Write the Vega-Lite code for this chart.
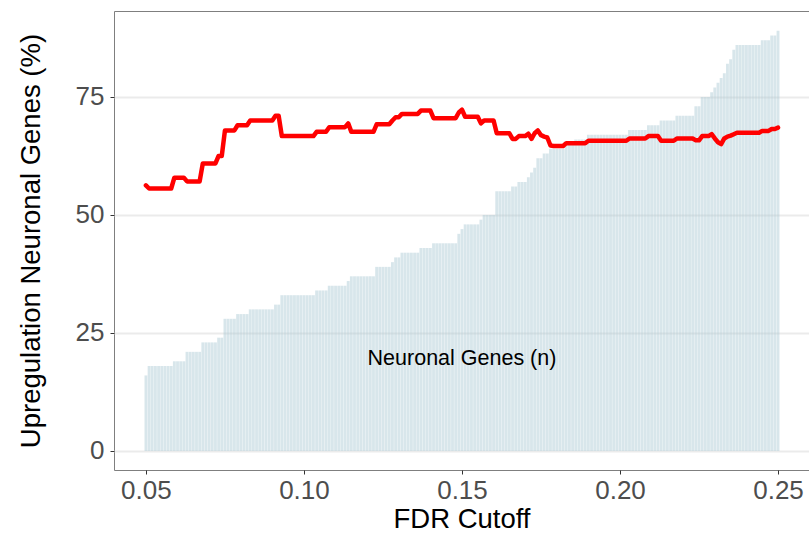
{
  "$schema": "https://vega.github.io/schema/vega-lite/v6.json",
  "autosize": {"type": "none"},
  "width": 695,
  "height": 459,
  "padding": {"left": 114, "top": 11, "right": 0, "bottom": 66},
  "background": "white",
  "config": {
    "font": "Liberation Sans",
    "view": {"stroke": "#7f7f7f", "strokeWidth": 1},
    "axis": {
      "labelFont": "Liberation Sans",
      "titleFont": "Liberation Sans",
      "labelFontSize": 26,
      "labelColor": "#4d4d4d",
      "titleFontSize": 27.5,
      "titleColor": "#000000",
      "titleFontWeight": "normal",
      "domain": false,
      "tickColor": "#333333",
      "tickSize": 4,
      "labelPadding": 3
    }
  },
  "datasets": {
    "cutoffs": [
      {"fdr": 0.050, "n": 16, "pct": 56.25},
      {"fdr": 0.051, "n": 18, "pct": 55.6},
      {"fdr": 0.052, "n": 18, "pct": 55.6},
      {"fdr": 0.053, "n": 18, "pct": 55.6},
      {"fdr": 0.054, "n": 18, "pct": 55.6},
      {"fdr": 0.055, "n": 18, "pct": 55.6},
      {"fdr": 0.056, "n": 18, "pct": 55.6},
      {"fdr": 0.057, "n": 18, "pct": 55.6},
      {"fdr": 0.058, "n": 18, "pct": 55.6},
      {"fdr": 0.059, "n": 19, "pct": 57.9},
      {"fdr": 0.060, "n": 19, "pct": 57.9},
      {"fdr": 0.061, "n": 19, "pct": 57.9},
      {"fdr": 0.062, "n": 19, "pct": 57.9},
      {"fdr": 0.063, "n": 21, "pct": 57.1},
      {"fdr": 0.064, "n": 21, "pct": 57.1},
      {"fdr": 0.065, "n": 21, "pct": 57.1},
      {"fdr": 0.066, "n": 21, "pct": 57.1},
      {"fdr": 0.067, "n": 21, "pct": 57.1},
      {"fdr": 0.068, "n": 23, "pct": 60.9},
      {"fdr": 0.069, "n": 23, "pct": 60.9},
      {"fdr": 0.070, "n": 23, "pct": 60.9},
      {"fdr": 0.071, "n": 23, "pct": 60.9},
      {"fdr": 0.072, "n": 23, "pct": 60.9},
      {"fdr": 0.073, "n": 24, "pct": 62.5},
      {"fdr": 0.074, "n": 24, "pct": 62.5},
      {"fdr": 0.075, "n": 28, "pct": 67.9},
      {"fdr": 0.076, "n": 28, "pct": 67.9},
      {"fdr": 0.077, "n": 28, "pct": 67.9},
      {"fdr": 0.078, "n": 28, "pct": 67.9},
      {"fdr": 0.079, "n": 29, "pct": 69.0},
      {"fdr": 0.080, "n": 29, "pct": 69.0},
      {"fdr": 0.081, "n": 29, "pct": 69.0},
      {"fdr": 0.082, "n": 29, "pct": 69.0},
      {"fdr": 0.083, "n": 30, "pct": 70.0},
      {"fdr": 0.084, "n": 30, "pct": 70.0},
      {"fdr": 0.085, "n": 30, "pct": 70.0},
      {"fdr": 0.086, "n": 30, "pct": 70.0},
      {"fdr": 0.087, "n": 30, "pct": 70.0},
      {"fdr": 0.088, "n": 30, "pct": 70.0},
      {"fdr": 0.089, "n": 30, "pct": 70.0},
      {"fdr": 0.090, "n": 30, "pct": 70.0},
      {"fdr": 0.091, "n": 31, "pct": 71.0},
      {"fdr": 0.092, "n": 31, "pct": 71.0},
      {"fdr": 0.093, "n": 33, "pct": 66.7},
      {"fdr": 0.094, "n": 33, "pct": 66.7},
      {"fdr": 0.095, "n": 33, "pct": 66.7},
      {"fdr": 0.096, "n": 33, "pct": 66.7},
      {"fdr": 0.097, "n": 33, "pct": 66.7},
      {"fdr": 0.098, "n": 33, "pct": 66.7},
      {"fdr": 0.099, "n": 33, "pct": 66.7},
      {"fdr": 0.100, "n": 33, "pct": 66.7},
      {"fdr": 0.101, "n": 33, "pct": 66.7},
      {"fdr": 0.102, "n": 33, "pct": 66.7},
      {"fdr": 0.103, "n": 33, "pct": 66.7},
      {"fdr": 0.104, "n": 34, "pct": 67.6},
      {"fdr": 0.105, "n": 34, "pct": 67.6},
      {"fdr": 0.106, "n": 34, "pct": 67.6},
      {"fdr": 0.107, "n": 34, "pct": 67.6},
      {"fdr": 0.108, "n": 35, "pct": 68.6},
      {"fdr": 0.109, "n": 35, "pct": 68.6},
      {"fdr": 0.110, "n": 35, "pct": 68.6},
      {"fdr": 0.111, "n": 35, "pct": 68.6},
      {"fdr": 0.112, "n": 35, "pct": 68.6},
      {"fdr": 0.113, "n": 35, "pct": 68.6},
      {"fdr": 0.114, "n": 36, "pct": 69.4},
      {"fdr": 0.115, "n": 37, "pct": 67.6},
      {"fdr": 0.116, "n": 37, "pct": 67.6},
      {"fdr": 0.117, "n": 37, "pct": 67.6},
      {"fdr": 0.118, "n": 37, "pct": 67.6},
      {"fdr": 0.119, "n": 37, "pct": 67.6},
      {"fdr": 0.120, "n": 37, "pct": 67.6},
      {"fdr": 0.121, "n": 37, "pct": 67.6},
      {"fdr": 0.122, "n": 37, "pct": 67.6},
      {"fdr": 0.123, "n": 39, "pct": 69.2},
      {"fdr": 0.124, "n": 39, "pct": 69.2},
      {"fdr": 0.125, "n": 39, "pct": 69.2},
      {"fdr": 0.126, "n": 39, "pct": 69.2},
      {"fdr": 0.127, "n": 39, "pct": 69.2},
      {"fdr": 0.128, "n": 40, "pct": 70.0},
      {"fdr": 0.129, "n": 41, "pct": 70.7},
      {"fdr": 0.130, "n": 41, "pct": 70.7},
      {"fdr": 0.131, "n": 42, "pct": 71.4},
      {"fdr": 0.132, "n": 42, "pct": 71.4},
      {"fdr": 0.133, "n": 42, "pct": 71.4},
      {"fdr": 0.134, "n": 42, "pct": 71.4},
      {"fdr": 0.135, "n": 42, "pct": 71.4},
      {"fdr": 0.136, "n": 42, "pct": 71.4},
      {"fdr": 0.137, "n": 43, "pct": 72.1},
      {"fdr": 0.138, "n": 43, "pct": 72.1},
      {"fdr": 0.139, "n": 43, "pct": 72.1},
      {"fdr": 0.140, "n": 43, "pct": 72.1},
      {"fdr": 0.141, "n": 44, "pct": 70.5},
      {"fdr": 0.142, "n": 44, "pct": 70.5},
      {"fdr": 0.143, "n": 44, "pct": 70.5},
      {"fdr": 0.144, "n": 44, "pct": 70.5},
      {"fdr": 0.145, "n": 44, "pct": 70.5},
      {"fdr": 0.146, "n": 44, "pct": 70.5},
      {"fdr": 0.147, "n": 44, "pct": 70.5},
      {"fdr": 0.148, "n": 44, "pct": 70.5},
      {"fdr": 0.149, "n": 46, "pct": 71.7},
      {"fdr": 0.150, "n": 47, "pct": 72.3},
      {"fdr": 0.151, "n": 48, "pct": 70.8},
      {"fdr": 0.152, "n": 48, "pct": 70.8},
      {"fdr": 0.153, "n": 48, "pct": 70.8},
      {"fdr": 0.154, "n": 48, "pct": 70.8},
      {"fdr": 0.155, "n": 48, "pct": 70.8},
      {"fdr": 0.156, "n": 49, "pct": 69.4},
      {"fdr": 0.157, "n": 50, "pct": 70.0},
      {"fdr": 0.158, "n": 50, "pct": 70.0},
      {"fdr": 0.159, "n": 50, "pct": 70.0},
      {"fdr": 0.160, "n": 50, "pct": 70.0},
      {"fdr": 0.161, "n": 55, "pct": 67.3},
      {"fdr": 0.162, "n": 55, "pct": 67.3},
      {"fdr": 0.163, "n": 55, "pct": 67.3},
      {"fdr": 0.164, "n": 55, "pct": 67.3},
      {"fdr": 0.165, "n": 55, "pct": 67.3},
      {"fdr": 0.166, "n": 56, "pct": 66.1},
      {"fdr": 0.167, "n": 56, "pct": 66.1},
      {"fdr": 0.168, "n": 57, "pct": 66.7},
      {"fdr": 0.169, "n": 57, "pct": 66.7},
      {"fdr": 0.170, "n": 57, "pct": 66.7},
      {"fdr": 0.171, "n": 58, "pct": 67.2},
      {"fdr": 0.172, "n": 59, "pct": 66.1},
      {"fdr": 0.173, "n": 60, "pct": 67.3},
      {"fdr": 0.174, "n": 62, "pct": 67.9},
      {"fdr": 0.175, "n": 62, "pct": 66.9},
      {"fdr": 0.176, "n": 63, "pct": 66.6},
      {"fdr": 0.177, "n": 63, "pct": 66.4},
      {"fdr": 0.178, "n": 64, "pct": 64.7},
      {"fdr": 0.179, "n": 64, "pct": 64.6},
      {"fdr": 0.180, "n": 64, "pct": 64.6},
      {"fdr": 0.181, "n": 64, "pct": 64.6},
      {"fdr": 0.182, "n": 64, "pct": 64.6},
      {"fdr": 0.183, "n": 65, "pct": 65.2},
      {"fdr": 0.184, "n": 65, "pct": 65.2},
      {"fdr": 0.185, "n": 65, "pct": 65.2},
      {"fdr": 0.186, "n": 66, "pct": 65.2},
      {"fdr": 0.187, "n": 66, "pct": 65.2},
      {"fdr": 0.188, "n": 66, "pct": 65.2},
      {"fdr": 0.189, "n": 66, "pct": 65.2},
      {"fdr": 0.190, "n": 67, "pct": 65.7},
      {"fdr": 0.191, "n": 67, "pct": 65.7},
      {"fdr": 0.192, "n": 67, "pct": 65.7},
      {"fdr": 0.193, "n": 67, "pct": 65.7},
      {"fdr": 0.194, "n": 67, "pct": 65.7},
      {"fdr": 0.195, "n": 67, "pct": 65.7},
      {"fdr": 0.196, "n": 67, "pct": 65.7},
      {"fdr": 0.197, "n": 67, "pct": 65.7},
      {"fdr": 0.198, "n": 67, "pct": 65.7},
      {"fdr": 0.199, "n": 67, "pct": 65.7},
      {"fdr": 0.200, "n": 67, "pct": 65.7},
      {"fdr": 0.201, "n": 67, "pct": 65.7},
      {"fdr": 0.202, "n": 67, "pct": 65.7},
      {"fdr": 0.203, "n": 68, "pct": 66.2},
      {"fdr": 0.204, "n": 68, "pct": 66.2},
      {"fdr": 0.205, "n": 68, "pct": 66.2},
      {"fdr": 0.206, "n": 68, "pct": 66.2},
      {"fdr": 0.207, "n": 68, "pct": 66.2},
      {"fdr": 0.208, "n": 68, "pct": 66.2},
      {"fdr": 0.209, "n": 69, "pct": 66.7},
      {"fdr": 0.210, "n": 69, "pct": 66.7},
      {"fdr": 0.211, "n": 69, "pct": 66.7},
      {"fdr": 0.212, "n": 69, "pct": 66.7},
      {"fdr": 0.213, "n": 70, "pct": 65.7},
      {"fdr": 0.214, "n": 70, "pct": 65.7},
      {"fdr": 0.215, "n": 70, "pct": 65.7},
      {"fdr": 0.216, "n": 70, "pct": 65.7},
      {"fdr": 0.217, "n": 70, "pct": 65.7},
      {"fdr": 0.218, "n": 71, "pct": 66.2},
      {"fdr": 0.219, "n": 71, "pct": 66.2},
      {"fdr": 0.220, "n": 71, "pct": 66.2},
      {"fdr": 0.221, "n": 71, "pct": 66.2},
      {"fdr": 0.222, "n": 71, "pct": 66.2},
      {"fdr": 0.223, "n": 71, "pct": 66.2},
      {"fdr": 0.224, "n": 73, "pct": 65.8},
      {"fdr": 0.225, "n": 73, "pct": 65.8},
      {"fdr": 0.226, "n": 75, "pct": 66.7},
      {"fdr": 0.227, "n": 75, "pct": 66.7},
      {"fdr": 0.228, "n": 75, "pct": 66.7},
      {"fdr": 0.229, "n": 76, "pct": 67.1},
      {"fdr": 0.230, "n": 77, "pct": 66.2},
      {"fdr": 0.231, "n": 78, "pct": 65.4},
      {"fdr": 0.232, "n": 79, "pct": 65.0},
      {"fdr": 0.233, "n": 80, "pct": 66.2},
      {"fdr": 0.234, "n": 82, "pct": 66.6},
      {"fdr": 0.235, "n": 83, "pct": 66.8},
      {"fdr": 0.236, "n": 85, "pct": 67.1},
      {"fdr": 0.237, "n": 86, "pct": 67.4},
      {"fdr": 0.238, "n": 86, "pct": 67.4},
      {"fdr": 0.239, "n": 86, "pct": 67.4},
      {"fdr": 0.240, "n": 86, "pct": 67.4},
      {"fdr": 0.241, "n": 86, "pct": 67.4},
      {"fdr": 0.242, "n": 86, "pct": 67.4},
      {"fdr": 0.243, "n": 86, "pct": 67.4},
      {"fdr": 0.244, "n": 86, "pct": 67.4},
      {"fdr": 0.245, "n": 87, "pct": 67.8},
      {"fdr": 0.246, "n": 87, "pct": 67.8},
      {"fdr": 0.247, "n": 87, "pct": 67.8},
      {"fdr": 0.248, "n": 88, "pct": 68.2},
      {"fdr": 0.249, "n": 88, "pct": 68.2},
      {"fdr": 0.250, "n": 89, "pct": 68.5}
    ],
    "note": [
      {"fdr": 0.15, "value": 20, "label": "Neuronal Genes (n)"}
    ]
  },
  "layer": [
    {
      "data": {"name": "cutoffs"},
      "mark": {"type": "bar", "width": 2.85, "color": "#a9c7d3", "opacity": 0.45},
      "encoding": {
        "x": {
          "field": "fdr",
          "type": "quantitative",
          "scale": {"domain": [0.0399, 0.2598], "nice": false, "zero": false, "padding": 0},
          "axis": {
            "values": [0.05, 0.1, 0.15, 0.2, 0.25],
            "format": ".2f",
            "grid": false,
            "title": "FDR Cutoff",
            "titlePadding": 2
          }
        },
        "y": {
          "field": "n",
          "type": "quantitative",
          "scale": {"domain": [-4.03, 93.2], "nice": false, "zero": false},
          "axis": {
            "values": [0, 25, 50, 75],
            "grid": true,
            "gridColor": "#ebebeb",
            "gridWidth": 2,
            "labelPadding": 6,
            "title": "Upregulation Neuronal Genes (%)",
            "titlePadding": 30
          }
        }
      }
    },
    {
      "data": {"name": "cutoffs"},
      "mark": {"type": "line", "color": "#ff0000", "strokeWidth": 4.5, "strokeJoin": "round", "strokeCap": "round"},
      "encoding": {
        "x": {"field": "fdr", "type": "quantitative"},
        "y": {"field": "pct", "type": "quantitative"}
      }
    },
    {
      "data": {"name": "note"},
      "mark": {"type": "text", "font": "Liberation Sans", "fontSize": 21.5, "color": "#000000", "align": "center", "baseline": "middle", "dy": 2},
      "encoding": {
        "x": {"field": "fdr", "type": "quantitative"},
        "y": {"field": "value", "type": "quantitative"},
        "text": {"field": "label"}
      }
    }
  ]
}
